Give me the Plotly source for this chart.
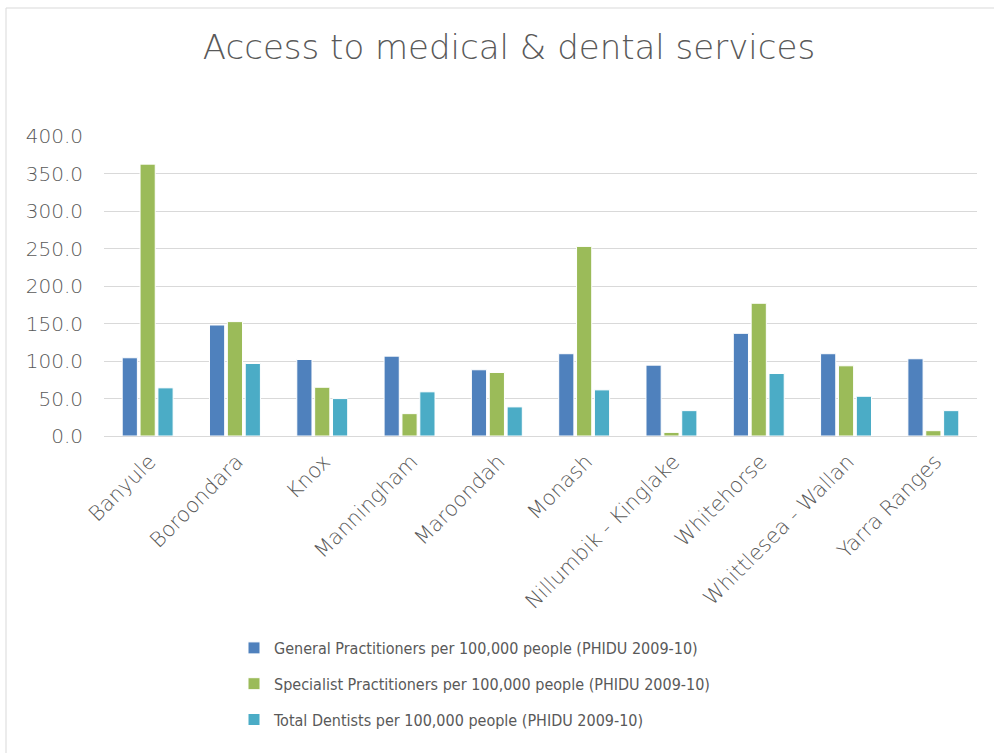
import plotly.graph_objects as go

# Local government areas
regions = [
    "Banyule", "Boroondara", "Knox", "Manningham", "Maroondah", "Monash",
    "Nillumbik - Kinglake", "Whitehorse", "Whittlesea - Wallan", "Yarra Ranges",
]

# Rates per 100,000 people (PHIDU 2009-10)
general_practitioners = [104.3, 148.0, 102.0, 106.5, 88.3, 109.7, 94.5, 136.9, 109.7, 103.0]
specialist_practitioners = [362.5, 152.5, 65.0, 29.8, 84.7, 252.8, 4.8, 177.0, 93.6, 7.1]
total_dentists = [64.2, 96.7, 49.9, 58.9, 38.8, 61.5, 33.8, 83.3, 53.0, 33.8]

series_names = [
    "General Practitioners per 100,000 people (PHIDU 2009-10)",
    "Specialist Practitioners per 100,000 people (PHIDU 2009-10)",
    "Total Dentists per 100,000 people (PHIDU 2009-10)",
]
series_values = [general_practitioners, specialist_practitioners, total_dentists]
series_colors = ["#4F81BD", "#9BBB59", "#4BACC6"]

y_ticks = [0, 50, 100, 150, 200, 250, 300, 350, 400]

W, H = 994, 753
L, R, T, B = 104, 17, 136, 317
PW, PH = W - L - R, H - T - B
text_color = "#595959"
body_font = "'DejaVu Sans', sans-serif"

fig = go.Figure()
for i, (name, vals, col) in enumerate(zip(series_names, series_values, series_colors)):
    fig.add_trace(go.Bar(
        x=regions, y=vals, name=name, legendgroup=f"g{i}",
        marker=dict(color=col, line=dict(color="white", width=1)),
    ))

fig.update_layout(
    width=W, height=H,
    paper_bgcolor="white", plot_bgcolor="white",
    margin=dict(l=L, r=R, t=T, b=B, autoexpand=False),
    barmode="group", bargap=0.386, bargroupgap=0.15,
    title=dict(
        text="Access to medical &amp; dental services",
        x=509 / W, xanchor="center", xref="container",
        y=1 - 47 / H, yanchor="middle", yref="container",
        font=dict(family=body_font, size=34, color=text_color, weight=200),
    ),
    font=dict(family=body_font, color=text_color),
    showlegend=True,
    legend=dict(
        orientation="v", x=(234 - L) / PW, xanchor="left",
        y=-(684 - (T + PH)) / PH, yanchor="middle",
        font=dict(family="'Liberation Sans Narrow', 'DejaVu Sans Condensed', sans-serif",
                  size=16, color=text_color),
        traceorder="grouped", tracegroupgap=12, itemwidth=30,
        bgcolor="rgba(0,0,0,0)",
    ),
    xaxis=dict(
        type="category", tickangle=-45, showgrid=False,
        tickfont=dict(family=body_font, size=21, color=text_color, weight=200),
        ticklabelshift=2, ticklabelstandoff=4,
        linecolor="#D9D9D9", linewidth=1, showline=True, ticks="",
    ),
    yaxis=dict(
        range=[0, 400], tickvals=y_ticks,
        ticktext=[f"{v:.1f}" for v in y_ticks],
        showgrid=True, gridcolor="#D9D9D9", gridwidth=1,
        zeroline=True, zerolinecolor="#D9D9D9", zerolinewidth=1,
        tickfont=dict(family=body_font, size=20, color=text_color, weight=200),
        ticklabelstandoff=20,
        ticks="", showline=False,
    ),
    shapes=[dict(
        type="rect", xref="paper", yref="paper",
        x0=-(L - 6) / PW, x1=1 + (R + 10) / PW,
        y0=-(B + 20) / PH, y1=1 + (T - 8) / PH,
        line=dict(color="#D9D9D9", width=1), fillcolor="rgba(0,0,0,0)",
        layer="below",
    )],
)

fig.write_html("out.html")
